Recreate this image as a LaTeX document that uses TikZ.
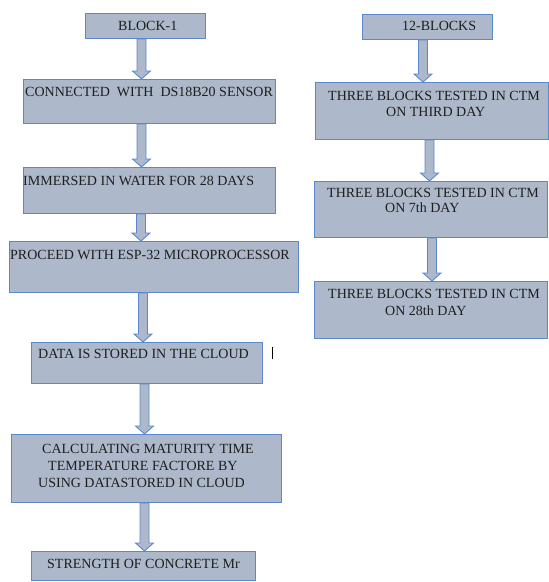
\documentclass[tikz,border=0pt]{standalone}
\usepackage{fontspec}
\setmainfont{Liberation Serif}
\usetikzlibrary{calc}
\definecolor{boxfill}{HTML}{ADB9CA}
\definecolor{boxline}{HTML}{5B87CF}
\definecolor{txtcol}{HTML}{1E1E1E}
\newcommand\flowarrow[3]{%
  \draw[arrowbox] let \p1=(#2), \p2=(#3) in
    (#1pt-4.5pt,\y1) -- (#1pt+4.5pt,\y1) -- (#1pt+4.5pt,\y2+8pt) -- (#1pt+9pt,\y2+8pt)
    -- (#1pt,\y2) -- (#1pt-9pt,\y2+8pt) -- (#1pt-4.5pt,\y2+8pt) -- cycle;}
\begin{document}
\begin{tikzpicture}[x=1pt,y=-1pt,
  box/.style={draw=boxline, fill=boxfill, line width=1pt, rectangle, inner sep=0pt, anchor=north west},
  txt/.style={anchor=base west, inner sep=0pt, text=txtcol, font=\fontsize{14}{17}\selectfont},
  arrowbox/.style={draw=boxline, fill=boxfill, line width=0.9pt, line join=miter}]
\useasboundingbox (0,0) rectangle (549,582);
% left column boxes
\node[box, minimum width=120pt, minimum height=25pt] (b1) at (85,13) {};
\node[box, minimum width=252pt, minimum height=44pt] (b2) at (23,79) {};
\node[box, minimum width=252pt, minimum height=46pt] (b3) at (23,167) {};
\node[box, minimum width=289pt, minimum height=51pt] (b4) at (9,241) {};
\node[box, minimum width=231pt, minimum height=41pt] (b5) at (31,342) {};
\node[box, minimum width=270pt, minimum height=68pt] (b6) at (11,434) {};
\node[box, minimum width=224pt, minimum height=29pt] (b7) at (31,551) {};
% right column boxes
\node[box, minimum width=130pt, minimum height=25pt] (r1) at (362,14) {};
\node[box, minimum width=233pt, minimum height=57pt] (r2) at (315,82) {};
\node[box, minimum width=233pt, minimum height=56pt] (r3) at (314,181) {};
\node[box, minimum width=233pt, minimum height=57pt] (r4) at (314,281) {};
% texts
\node[txt] (t1) at (118,30) {BLOCK-1};
\node[txt] (t2) at (25,96) {CONNECTED\ \ WITH\ \ DS18B20 SENSOR};
\node[txt] (t3) at (23,185) {IMMERSED IN WATER FOR 28 DAYS};
\node[txt] (t4) at (10,259) {PROCEED WITH ESP-32 MICROPROCESSOR};
\node[txt] (t5) at (38,358) {DATA IS STORED IN THE CLOUD};
\node[txt] (t6a) at (42,453) {CALCULATING MATURITY TIME};
\node[txt] (t6b) at (48,470) {TEMPERATURE FACTORE BY};
\node[txt] (t6c) at (38,487) {USING DATASTORED IN CLOUD};
\node[txt] (t7) at (47,568) {STRENGTH OF CONCRETE Mr};
\node[txt] (u1) at (402,30) {12-BLOCKS};
\node[txt] (u2a) at (328,100) {THREE BLOCKS TESTED IN CTM};
\node[txt] (u2b) at (386,116) {ON THIRD DAY};
\node[txt] (u3a) at (327,197) {THREE BLOCKS TESTED IN CTM};
\node[txt] (u3b) at (385,212) {ON 7th DAY};
\node[txt] (u4a) at (328,298) {THREE BLOCKS TESTED IN CTM};
\node[txt] (u4b) at (385,315) {ON 28th DAY};
% cursor mark
\coordinate (cA) at (272,347);
\coordinate (cB) at (272,359);
\draw[line width=0.8pt, black] (cA) -- (cB);
% arrows
\flowarrow{141.5}{b1.south}{b2.north}
\flowarrow{141.5}{b2.south}{b3.north}
\flowarrow{141}{b3.south}{b4.north}
\flowarrow{143}{b4.south}{b5.north}
\flowarrow{144.5}{b5.south}{b6.north}
\flowarrow{144.5}{b6.south}{b7.north}
\flowarrow{423}{r1.south}{r2.north}
\flowarrow{429.5}{r2.south}{r3.north}
\flowarrow{432}{r3.south}{r4.north}
\end{tikzpicture}
\end{document}
